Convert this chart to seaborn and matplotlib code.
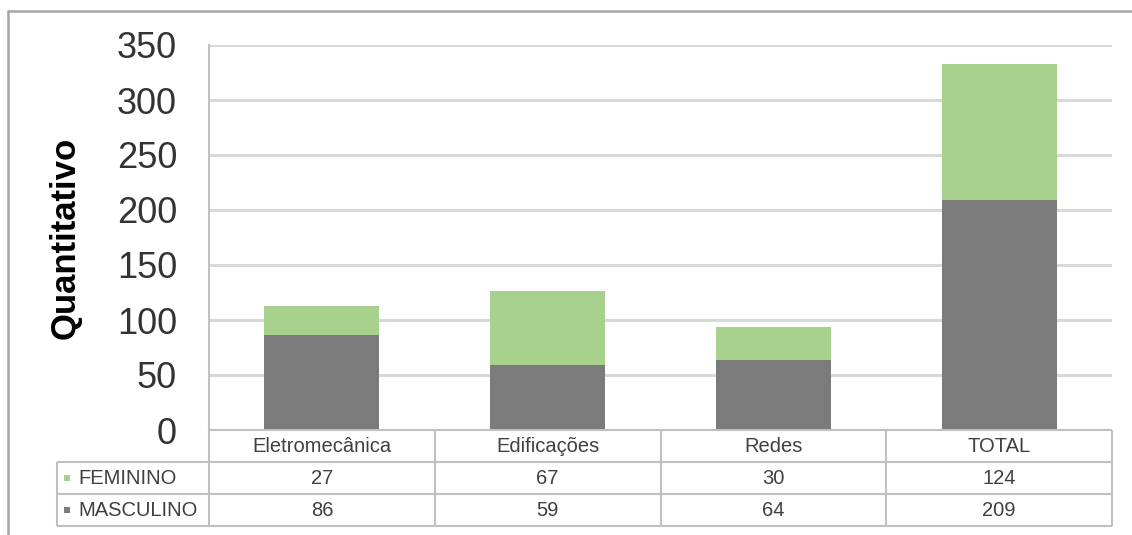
import matplotlib
matplotlib.use("Agg")
import matplotlib.pyplot as plt
from matplotlib.lines import Line2D
import matplotlib.transforms as mtransforms
import seaborn as sns
import pandas as pd

# Course enrolment by sex
cursos = ["Eletromecânica", "Edificações", "Redes", "TOTAL"]
feminino = [27, 67, 30, 124]
masculino = [86, 59, 64, 209]
series = ["FEMININO", "MASCULINO"]
y_ticks = [0, 50, 100, 150, 200, 250, 300, 350]

COR_FEM = "#a9d18e"
COR_MASC = "#7b7b7b"
COR_GRADE = "#d9d9d9"
COR_BORDA = "#c0c0c0"
COR_TEXTO = "#404040"

sns.set_theme(style="white")
plt.rcParams["font.family"] = ["Liberation Sans", "DejaVu Sans"]

df = pd.DataFrame({"curso": cursos, "FEMININO": feminino, "MASCULINO": masculino})
df["acumulado"] = df["FEMININO"] + df["MASCULINO"]

W, H = 1132, 535
fig = plt.figure(figsize=(W / 100, H / 100), dpi=100)
x0, x1, y_top, y_base = 209, 1112, 45, 430
ax_h = y_base - y_top
ax = fig.add_axes([x0 / W, 1 - y_base / H, (x1 - x0) / W, ax_h / H])

# stacked bars: full height in green, masculine part overlaid in grey
sns.barplot(data=df, x="curso", y="acumulado", color=COR_FEM, width=0.51,
            saturation=1, ax=ax, zorder=3, linewidth=0)
sns.barplot(data=df, x="curso", y="MASCULINO", color=COR_MASC, width=0.51,
            saturation=1, ax=ax, zorder=3, linewidth=0)

ax.set_xlim(-0.5, len(cursos) - 0.5)
ax.set_ylim(0, 350)
ax.set_yticks(y_ticks)
ax.set_yticklabels([str(v) for v in y_ticks], fontsize=26, color="#333333")
ax.tick_params(axis="y", length=0, pad=23)
ax.set_xticks([])
ax.set_xlabel("")
ax.set_ylabel("Quantitativo", fontsize=25, fontweight="bold", color="black")
ax.yaxis.set_label_coords(-0.141, 0.5)
ax.grid(axis="y", color=COR_GRADE, linewidth=2.2, zorder=0)
for side in ["top", "right", "bottom"]:
    ax.spines[side].set_visible(False)
ax.spines["left"].set_color(COR_BORDA)
ax.spines["left"].set_linewidth(1.5)

# data table below the plot area (x in category units, y in axes fraction)
trans = mtransforms.blended_transform_factory(ax.transData, ax.transAxes)
col_px = (x1 - x0) / len(cursos)
linha = 32 / ax_h
y_linhas = [0, -linha, -2 * linha, -3 * linha]
x_ini = -0.5 - (209 - 57) / col_px
x_fim = len(cursos) - 0.5

def traco(xs, ys):
    ax.plot(xs, ys, transform=trans, color=COR_BORDA, linewidth=1.5,
            clip_on=False, zorder=4, solid_capstyle="butt")

traco([-0.5, x_fim], [0, 0])
for y in y_linhas[1:]:
    traco([x_ini, x_fim], [y, y])
traco([x_ini, x_ini], [y_linhas[1], y_linhas[3]])
for k in range(len(cursos) + 1):
    traco([k - 0.5, k - 0.5], [0, y_linhas[3]])

for i, nome in enumerate(cursos):
    ax.text(i, -0.5 * linha, nome, transform=trans, ha="center", va="center",
            fontsize=14.5, color=COR_TEXTO)
for r, (nome, vals, cor) in enumerate(zip(series, [feminino, masculino], [COR_FEM, COR_MASC])):
    yc = -(r + 1.5) * linha
    for i, v in enumerate(vals):
        ax.text(i, yc, str(v), transform=trans, ha="center", va="center",
                fontsize=14.5, color=COR_TEXTO)
    ax.text(-0.5 - (209 - 78) / col_px, yc, nome, transform=trans, ha="left",
            va="center", fontsize=14.5, color=COR_TEXTO)
    ax.scatter([-0.5 - (209 - 67) / col_px], [yc], transform=trans, marker="s",
               s=22, color=cor, clip_on=False, zorder=5, linewidths=0)

# outer chart frame (top and left edges)
fig.lines.append(Line2D([8 / W, 1], [1 - 11 / H, 1 - 11 / H], transform=fig.transFigure,
                        color="#a6a6a6", linewidth=1.8))
fig.lines.append(Line2D([8 / W, 8 / W], [0, 1 - 11 / H], transform=fig.transFigure,
                        color="#a6a6a6", linewidth=1.8))

fig.savefig("out.png", dpi=100, facecolor="white")
